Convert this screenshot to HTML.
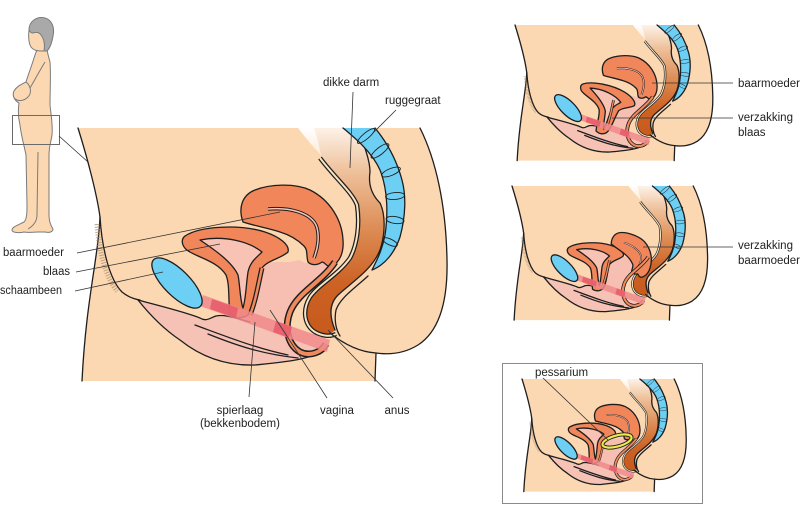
<!DOCTYPE html>
<html><head><meta charset="utf-8">
<style>
html,body{margin:0;padding:0;background:#fff;}
svg{display:block;}
text{font-family:"Liberation Sans",sans-serif;font-size:11.5px;fill:#222;}
.o{fill:none;stroke:#1e1e1e;stroke-width:1.3;vector-effect:non-scaling-stroke;stroke-linejoin:round;stroke-linecap:round;}
.l{stroke:#333;stroke-width:0.8;fill:none;}
</style></head>
<body>
<svg width="800" height="521" viewBox="0 0 800 521" xmlns="http://www.w3.org/2000/svg">
<defs>
  <linearGradient id="cg" x1="0" y1="0" x2="0" y2="1">
    <stop offset="0" stop-color="#fdf2e8"/>
    <stop offset="0.2" stop-color="#efc39e"/>
    <stop offset="0.5" stop-color="#dc8a52"/>
    <stop offset="0.75" stop-color="#cd6225"/>
    <stop offset="1" stop-color="#c75a1c"/>
  </linearGradient>
  <linearGradient id="fg" x1="0" y1="0" x2="0" y2="1">
    <stop offset="0" stop-color="#ffffff" stop-opacity="1"/>
    <stop offset="1" stop-color="#ffffff" stop-opacity="0"/>
  </linearGradient>

  <g id="base">
    <path d="M78,128 L420,128 C436,160 446,205 447,260 C448,305 438,332 418,345 C405,353 390,355 376,353 L375,381 L82,381 C86,300 98,260 100,217 C97,195 88,160 78,128 Z" fill="#fcd8b2"/>
    <path d="M298,128 L352,128 L352,180 C335,172 315,150 298,128 Z" fill="url(#fg)"/>
    <path d="M314,128 C318,140 320,150 322,160 C335,180 352,193 358,205 C360,225 357,245 350,258 C338,275 318,285 310,297 C302,310 304,325 315,332 C322,336 330,336 335,330 C330,318 328,305 338,295 C352,282 372,270 380,250 C386,232 385,213 380,203 C372,195 368,185 370,170 C370,155 362,140 358,128 Z" fill="url(#cg)"/>
    <path d="M320,158 C335,178 352,192 357,205 C360,225 357,245 350,258 C338,275 318,285 310,297 C302,310 304,325 315,332 C322,336 330,337 336,334" fill="none" stroke="#1e1e1e" stroke-width="4.5"/>
    <path d="M320,158 C335,178 352,192 357,205 C360,225 357,245 350,258 C338,275 318,285 310,297 C302,310 304,325 315,332 C322,336 330,337 336,334" fill="none" stroke="#f8e4c4" stroke-width="2"/>
    <path d="M358,130 C364,145 370,160 370,172 C368,185 372,195 380,203 C385,213 386,232 380,250 C372,270 352,282 338,295 C328,305 330,318 335,330" class="o"/>
    <path d="M368,276 C355,288 340,298 336,310 C334,320 336,330 340,336" class="o"/>
    <path d="M343,128 C355,138 372,152 380,170 C388,190 388,215 385,235 C382,250 378,258 372,270 C385,265 395,252 400,237 C406,215 406,195 402,180 C396,158 385,140 375,128 Z" fill="#6dcff4"/>
    <path d="M343,128 C355,138 372,152 380,170 C388,190 388,215 385,235 C382,250 378,258 372,270 C385,265 395,252 400,237 C406,215 406,195 402,180 C396,158 385,140 375,128" class="o"/>
    <g fill="none" stroke="#1e1e1e" stroke-width="0.9">
      <ellipse cx="366" cy="136" rx="11" ry="3" transform="rotate(-40 366 136)"/>
      <ellipse cx="380" cy="151" rx="11" ry="3.5" transform="rotate(-38 380 151)"/>
      <ellipse cx="391" cy="172" rx="10" ry="3.5" transform="rotate(-22 391 172)"/>
      <ellipse cx="395" cy="196" rx="9.5" ry="3.5" transform="rotate(-5 395 196)"/>
      <ellipse cx="395" cy="220" rx="9" ry="3.5" transform="rotate(8 395 220)"/>
      <ellipse cx="390" cy="242" rx="8" ry="3" transform="rotate(25 390 242)"/>
    </g>
    <path d="M138,300 C160,306 185,312 200,318 C206,322 210,318 216,316 C225,314 235,318 250,322 C275,332 300,342 322,350 C310,360 285,362 255,365 C225,366 200,356 180,340 C165,330 150,315 138,300 Z" fill="#f7c2b6"/>
    <path d="M138,300 C150,315 165,330 180,340 C200,356 225,366 255,365 C285,362 310,360 322,350" class="o"/>
    <path d="M138,300 C160,306 185,312 200,318 C206,322 210,318 216,316 C225,314 235,318 250,322" class="o"/>
    <path d="M195,325 C225,336 255,348 288,355" class="o"/>
    <path d="M208,334 C238,346 262,354 298,358" class="o"/>
    <path d="M255,265 C265,262 275,262 290,262 L300,260 C305,265 312,262 318,262 C325,262 330,258 335,262 C325,280 300,292 292,310 C286,322 287,335 290,342 L265,330 L248,318 C252,300 253,285 255,265 Z" fill="#f7bfb1"/>
    <path d="M420,128 C436,160 446,205 447,260 C448,305 438,332 418,345 C405,353 390,355 376,353 L375,381" class="o"/>
    <path d="M330,333 C345,345 360,352 376,353" class="o"/>
    <path d="M78,128 C88,160 97,195 100,217 C98,260 86,300 82,381" class="o"/>
    <path d="M100,217 C102,250 110,280 122,292 C128,297 134,299 140,300" class="o"/>
    <path d="M97,224 C99,252 106,278 117,291" fill="none" stroke="#a58466" stroke-width="5" stroke-dasharray="1 1.6" opacity="0.7"/>
  </g>

  <g id="blad">
    <path d="M185,236 C200,226 240,224 265,232 C280,237 290,245 288,252 C282,258 268,260 262,268 C258,280 258,295 252,310 C248,318 238,320 230,315 C228,300 230,285 226,275 C218,262 200,258 190,252 C182,248 180,240 185,236 Z" fill="#f08659"/>
    <path d="M185,236 C200,226 240,224 265,232 C280,237 290,245 288,252 C282,258 268,260 262,268 C258,280 258,295 252,310 C248,318 238,320 230,315 C228,300 230,285 226,275 C218,262 200,258 190,252 C182,248 180,240 185,236 Z" class="o"/>
    <path d="M200,240 C225,235 250,242 262,252 C256,258 250,262 248,272 C246,285 246,298 243,308 C240,300 240,285 238,275 C232,262 215,250 200,240 Z" fill="#f8c3b5"/>
    <path d="M200,240 C225,235 250,242 262,252 C256,258 250,262 248,272 C246,285 246,298 243,308 C240,300 240,285 238,275 C232,262 215,250 200,240 Z" class="o"/>
  </g>

  <g id="ut">
    <path d="M243,222 C238,208 242,195 255,190 C270,184 295,183 310,190 C330,200 342,220 343,240 C344,252 340,262 332,266 C327,268 325,262 322,262 C318,265 312,266 308,262 C306,255 308,250 304,246 C298,240 290,235 280,232 C268,228 255,226 243,222 Z" fill="#f08659"/>
    <path d="M243,222 C238,208 242,195 255,190 C270,184 295,183 310,190 C330,200 342,220 343,240 C344,252 340,262 332,266 C327,268 325,262 322,262 C318,265 312,266 308,262 C306,255 308,250 304,246 C298,240 290,235 280,232 C268,228 255,226 243,222 Z" class="o"/>
    <path d="M268,209 C290,207 310,213 316,225 C320,235 318,248 314,258" fill="none" stroke="#1e1e1e" stroke-width="3.5"/>
    <path d="M268,209 C290,207 310,213 316,225 C320,235 318,248 314,258" fill="none" stroke="#f8c3b5" stroke-width="1.5"/>
  </g>

  <g id="top">
    <path d="M335,262 C322,282 298,292 290,312 C284,328 288,345 300,352 C310,357 322,352 326,344" fill="none" stroke="#1e1e1e" stroke-width="7"/>
    <path d="M335,262 C322,282 298,292 290,312 C284,328 288,345 300,352 C310,357 322,352 326,344" fill="none" stroke="#ee8a5e" stroke-width="4"/>
    <path d="M262,268 C258,285 256,300 250,315" fill="none" stroke="#1e1e1e" stroke-width="5"/>
    <path d="M262,268 C258,285 256,300 250,315" fill="none" stroke="#ee8a5e" stroke-width="2.5"/>
    <polygon points="203,295 330,340 327,352 200,306" fill="#f08a8c" opacity="0.85"/>
    <polygon points="212,299 238,308 236,318 210,309" fill="#e65a68" opacity="0.85"/>
    <polygon points="276,321 292,327 289,338 273,332" fill="#e65a68" opacity="0.85"/>
    <ellipse cx="177" cy="283" rx="33" ry="13" transform="rotate(45 177 283)" fill="#6dcff4"/>
    <ellipse cx="177" cy="283" rx="33" ry="13" transform="rotate(45 177 283)" class="o"/>
  </g>
</defs>

<!-- small standing figure -->
<g stroke="#7a7a7a" stroke-width="1" stroke-linejoin="round">
  <path d="M37,50 L47,50 C48,55 49,58 50,62 C51,75 50,90 50,105 C51,115 53,125 52,135 C51,142 49,146 49,155 L49,215 C49,221 51,226 53,229 C53,232 49,233 45,232 L38,232 C33,232 28,233 24,232 C20,233 12,233 12,230 C12,227 18,225 24,222 C27,219 27,212 27,205 L26,155 C24,145 21,135 20,125 C18,117 18,110 19,103 C14,100 12,95 14,91 C17,86 22,84 26,82 C28,75 32,65 34,58 C35,55 36,52 37,50 Z" fill="#fcd8b2"/>
  <path d="M29,30 C28,37 29,44 31,47 C33,50 37,51 41,51 L46,51 C46,45 44,38 42,33 C38,30 33,30 29,30 Z" fill="#fcd8b2"/>
  <path d="M29,30 C29,21 37,16 45,18 C52,20 55,28 53,36 C52,42 50,48 47,51 L44,51 C45,45 44,39 41,35 C39,32 36,32 33,33 C31,33 30,32 29,30 Z" fill="#a9a9a9"/>
  <path d="M38,152 L37,215 C37,222 33,226 28,229" fill="none"/>
  <path d="M26,82 C31,86 32,93 28,97 C24,101 18,102 14,98" fill="none"/>
  <path d="M45,62 C40,70 36,78 30,88" fill="none"/>
</g>
<rect x="12.5" y="115.5" width="47" height="29" fill="none" stroke="#6a6a6a" stroke-width="1"/>
<line x1="59" y1="136" x2="88" y2="162" class="l"/>

<!-- main figure -->
<use href="#base"/>
<use href="#blad"/>
<use href="#ut"/>
<use href="#top"/>

<!-- main labels -->
<text x="323" y="86">dikke darm</text>
<line x1="353" y1="92" x2="350" y2="168" class="l"/>
<text x="385" y="104">ruggegraat</text>
<line x1="396" y1="110" x2="374" y2="132" class="l"/>
<text x="3" y="256" textLength="61" lengthAdjust="spacingAndGlyphs">baarmoeder</text>
<line x1="77" y1="253" x2="280" y2="212" class="l"/>
<text x="43" y="275" textLength="27" lengthAdjust="spacingAndGlyphs">blaas</text>
<line x1="76" y1="272" x2="220" y2="244" class="l"/>
<text x="0" y="294" textLength="62" lengthAdjust="spacingAndGlyphs">schaambeen</text>
<line x1="75" y1="291" x2="163" y2="272" class="l"/>
<line x1="255" y1="322" x2="249" y2="397" class="l"/>
<line x1="270" y1="310" x2="327" y2="398" class="l"/>
<line x1="328" y1="330" x2="393" y2="398" class="l"/>
<text x="240" y="414" text-anchor="middle">spierlaag</text>
<text x="240" y="427" text-anchor="middle">(bekkenbodem)</text>
<text x="337" y="414" text-anchor="middle">vagina</text>
<text x="397" y="414" text-anchor="middle">anus</text>

<!-- panel 1 -->
<g transform="translate(515,25) scale(0.536) translate(-78,-128)">
  <use href="#base"/>
  <use href="#blad" transform="translate(10,12) rotate(14 230 270)"/>
  <use href="#ut"/>
  <use href="#top"/>
</g>
<text x="738" y="87">baarmoeder</text>
<line x1="652" y1="83" x2="733" y2="83" class="l"/>
<text x="738" y="121">verzakking</text>
<text x="738" y="136">blaas</text>
<line x1="612" y1="118" x2="733" y2="118" class="l"/>

<!-- panel 2 -->
<g transform="translate(512,186) scale(0.53) translate(-78,-128)">
  <use href="#base"/>
  <use href="#blad" transform="translate(0,8)"/>
  <use href="#ut" transform="translate(10,30) rotate(22 293 227) translate(293 227) scale(0.85) translate(-293 -227)"/>
  <use href="#top"/>
</g>
<text x="738" y="249">verzakking</text>
<text x="738" y="264">baarmoeder</text>
<line x1="643" y1="247" x2="733" y2="247" class="l"/>

<!-- panel 3 -->
<rect x="502.5" y="363.5" width="200" height="140" fill="none" stroke="#8a8a8a" stroke-width="1"/>
<g transform="translate(522,379) scale(0.445) translate(-78,-128)">
  <use href="#base"/>
  <use href="#blad"/>
  <use href="#ut"/>
  <use href="#top"/>
</g>
<ellipse cx="617" cy="441" rx="15" ry="5.5" transform="rotate(-15 617 441)" fill="none" stroke="#1e1e1e" stroke-width="4"/>
<ellipse cx="617" cy="441" rx="15" ry="5.5" transform="rotate(-15 617 441)" fill="none" stroke="#eaea4a" stroke-width="2.2"/>
<text x="535" y="376">pessarium</text>
<line x1="543" y1="378" x2="608" y2="440" class="l"/>
</svg>
</body></html>
